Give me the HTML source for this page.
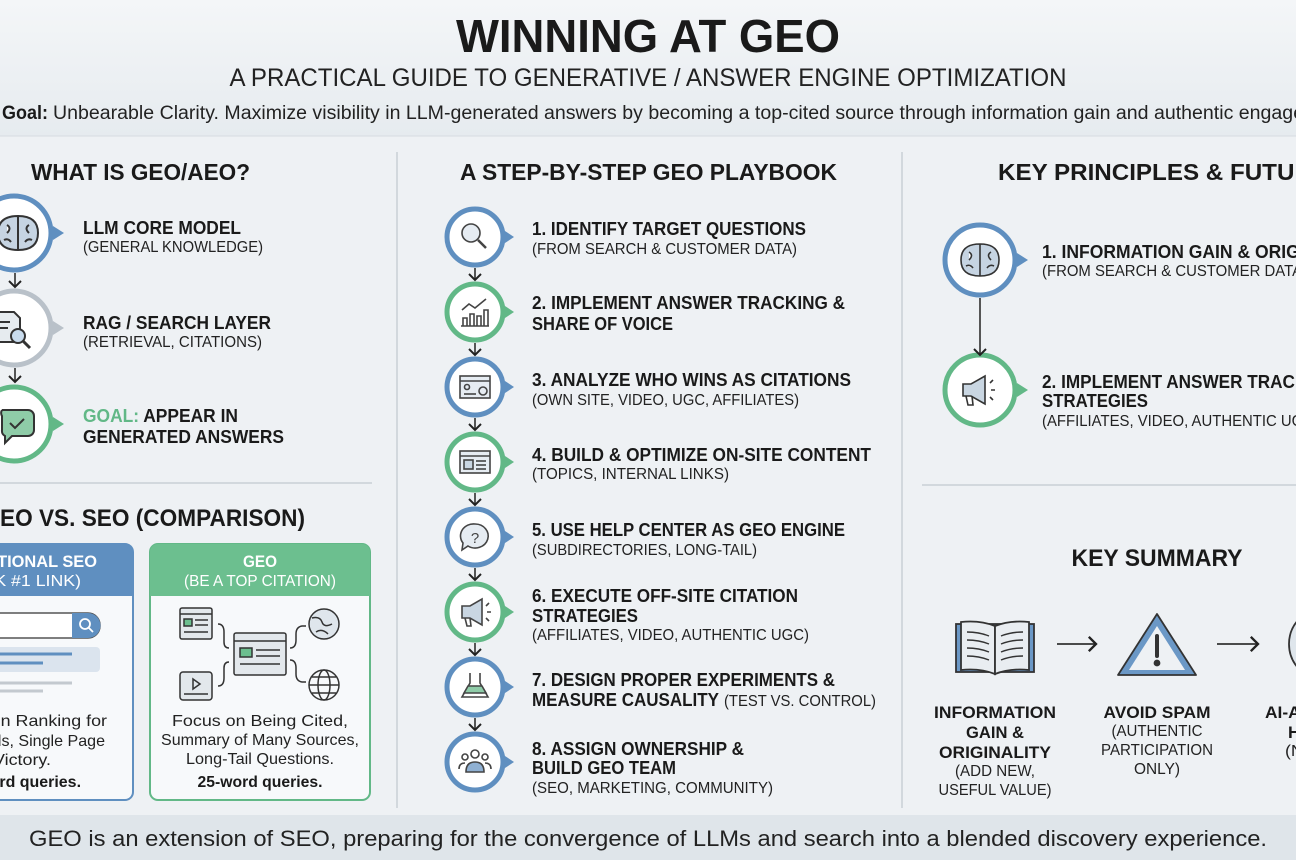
<!DOCTYPE html>
<html><head><meta charset="utf-8"><style>
html,body{margin:0;padding:0;background:#eef1f4;}
svg{display:block;font-family:"Liberation Sans",sans-serif;}
.b{font-weight:bold;fill:#1a1a1a}
.n{fill:#222}
</style></head><body>
<svg width="1296" height="860" viewBox="0 0 1296 860" xmlns="http://www.w3.org/2000/svg">
<defs>
<linearGradient id="hd" x1="0" y1="0" x2="0" y2="1"><stop offset="0" stop-color="#f4f6f8"/><stop offset="1" stop-color="#e6ebef"/></linearGradient>
<marker id="ah" markerWidth="10" markerHeight="10" refX="5" refY="5" orient="auto"><path d="M1,1 L5,5 L1,9" fill="none" stroke="#222" stroke-width="1.3"/></marker>
</defs>
<rect width="1296" height="860" fill="#eef1f4"/>
<rect width="1296" height="136" fill="url(#hd)"/>
<line x1="0" y1="136" x2="1296" y2="136" stroke="#d5dbe1" stroke-width="1"/>
<rect y="815" width="1296" height="45" fill="#dfe5ea"/>

<!-- Header -->
<text x="648" y="52" text-anchor="middle" class="b" font-size="46" textLength="384" lengthAdjust="spacingAndGlyphs">WINNING AT GEO</text>
<text x="648" y="86" text-anchor="middle" class="n" font-size="25" textLength="837" lengthAdjust="spacingAndGlyphs">A PRACTICAL GUIDE TO GENERATIVE / ANSWER ENGINE OPTIMIZATION</text>
<text x="2" y="119" class="b" font-size="19" textLength="46" lengthAdjust="spacingAndGlyphs">Goal:</text>
<text x="53" y="119" class="n" font-size="19" textLength="1300" lengthAdjust="spacingAndGlyphs">Unbearable Clarity. Maximize visibility in LLM-generated answers by becoming a top-cited source through information gain and authentic engagement.</text>

<!-- dividers -->
<line x1="397" y1="152" x2="397" y2="808" stroke="#c9cfd5" stroke-width="1.5"/>
<line x1="902" y1="152" x2="902" y2="808" stroke="#c9cfd5" stroke-width="1.5"/>

<!-- LEFT -->
<text x="31" y="180" class="b" font-size="23" textLength="219" lengthAdjust="spacingAndGlyphs">WHAT IS GEO/AEO?</text>
<g stroke-width="5" fill="#fff">
<circle cx="14" cy="233" r="37" stroke="#5f8fc0"/>
<circle cx="14" cy="328" r="37" stroke="#b9c1c9"/>
<circle cx="14" cy="424" r="37" stroke="#62b887"/>
</g>
<polygon points="53,226 64,233 53,240" fill="#5f8fc0"/>
<polygon points="53,321 64,328 53,335" fill="#b9c1c9"/>
<polygon points="53,417 64,424 53,431" fill="#62b887"/>
<g fill="none" stroke="#333" stroke-width="2">
<path d="M18,216 q-20,0 -20,17 q0,17 20,17 q20,0 20,-17 q0,-17 -20,-17 M18,216 v34 M7,225 q5,3 0,8 M29,225 q-5,3 0,8 M4,240 q4,-2 7,2 M32,240 q-4,-2 -7,2" fill="#c6d4e2"/>
<path d="M-4,312 h18 l6,6 v24 h-24 Z" fill="#e6ebef"/><line x1="0" y1="322" x2="10" y2="322"/><line x1="0" y1="328" x2="8" y2="328"/><circle cx="18" cy="336" r="7" fill="#c9dcee"/><line x1="23" y1="341" x2="30" y2="348" stroke-width="3"/>
<path d="M2,410 h26 a6,6 0 0 1 6,6 v14 a6,6 0 0 1 -6,6 h-16 l-7,7 v-7 a6,6 0 0 1 -3,-6 v-14 a6,6 0 0 1 0,-6" fill="#8fcca8"/><path d="M10,423 l5,5 l9,-9"/>
</g>
<g stroke="#222" stroke-width="1.5" fill="none">
<line x1="15" y1="273" x2="15" y2="287" marker-end="url(#ah)"/>
<line x1="15" y1="368" x2="15" y2="382" marker-end="url(#ah)"/>
</g>
<text x="83" y="234" class="b" font-size="18" textLength="158" lengthAdjust="spacingAndGlyphs">LLM CORE MODEL</text>
<text x="83" y="252" class="n" font-size="16" textLength="180" lengthAdjust="spacingAndGlyphs">(GENERAL KNOWLEDGE)</text>
<text x="83" y="329" class="b" font-size="18" textLength="188" lengthAdjust="spacingAndGlyphs">RAG / SEARCH LAYER</text>
<text x="83" y="347" class="n" font-size="16" textLength="179" lengthAdjust="spacingAndGlyphs">(RETRIEVAL, CITATIONS)</text>
<text x="83" y="422" class="b" font-size="18" textLength="155" lengthAdjust="spacingAndGlyphs"><tspan fill="#62b887">GOAL:</tspan> APPEAR IN</text>
<text x="83" y="443" class="b" font-size="18" textLength="201" lengthAdjust="spacingAndGlyphs">GENERATED ANSWERS</text>

<line x1="0" y1="483" x2="372" y2="483" stroke="#c9cfd5" stroke-width="1.5"/>
<text x="0" y="526" class="b" font-size="24" textLength="305" lengthAdjust="spacingAndGlyphs">EO VS. SEO (COMPARISON)</text>

<!-- blue box -->
<rect x="-12" y="544" width="145" height="256" rx="8" fill="#f7f9fb" stroke="#5f8fc0" stroke-width="2"/>
<path d="M-12,596 V552 a8,8 0 0 1 8,-8 H125 a8,8 0 0 1 8,8 V596 Z" fill="#5f8fc0"/>
<text x="22" y="567" text-anchor="middle" font-size="17" font-weight="bold" fill="#fff" textLength="150" lengthAdjust="spacingAndGlyphs">TRADITIONAL SEO</text>
<text x="16" y="586" text-anchor="middle" font-size="16" fill="#fff" textLength="130" lengthAdjust="spacingAndGlyphs">(RANK #1 LINK)</text>
<rect x="-20" y="613" width="120" height="25" rx="12" fill="#fff" stroke="#555" stroke-width="1.5"/>
<path d="M72,613 H88 a12,12 0 0 1 0,25 H72 Z" fill="#5f8fc0"/>
<circle cx="85" cy="624" r="5" fill="none" stroke="#fff" stroke-width="1.8"/><line x1="89" y1="628" x2="93" y2="632" stroke="#fff" stroke-width="1.8"/>
<rect x="-10" y="647" width="110" height="25" rx="4" fill="#dbe4ee"/>
<line x1="-10" y1="654" x2="72" y2="654" stroke="#5f8fc0" stroke-width="3"/>
<line x1="-10" y1="663" x2="43" y2="663" stroke="#5f8fc0" stroke-width="3"/>
<line x1="-10" y1="683" x2="72" y2="683" stroke="#c3c9cf" stroke-width="3"/>
<line x1="-10" y1="691" x2="43" y2="691" stroke="#c3c9cf" stroke-width="3"/>
<text x="22" y="726" text-anchor="middle" class="n" font-size="16" textLength="170" lengthAdjust="spacingAndGlyphs">Focus on Ranking for</text>
<text x="22" y="746" text-anchor="middle" class="n" font-size="16" textLength="166" lengthAdjust="spacingAndGlyphs">Keywords, Single Page</text>
<text x="22" y="765" text-anchor="middle" class="n" font-size="16" textLength="58" lengthAdjust="spacingAndGlyphs">Victory.</text>
<text x="22" y="787" text-anchor="middle" class="b" font-size="16" textLength="118" lengthAdjust="spacingAndGlyphs">3-word queries.</text>

<!-- green box -->
<rect x="150" y="544" width="220" height="256" rx="8" fill="#f7f9fb" stroke="#62b887" stroke-width="2"/>
<path d="M150,596 V552 a8,8 0 0 1 8,-8 H362 a8,8 0 0 1 8,8 V596 Z" fill="#6cbf8f"/>
<text x="260" y="567" text-anchor="middle" font-size="17" font-weight="bold" fill="#fff" textLength="34" lengthAdjust="spacingAndGlyphs">GEO</text>
<text x="260" y="586" text-anchor="middle" font-size="16" fill="#fff" textLength="152" lengthAdjust="spacingAndGlyphs">(BE A TOP CITATION)</text>
<g fill="none" stroke="#333" stroke-width="1.5">
<rect x="180" y="608" width="32" height="31" rx="2" fill="#e3e8ec"/><line x1="180" y1="614" x2="212" y2="614"/><rect x="184" y="619" width="8" height="7" fill="#6cbf8f"/><line x1="195" y1="620" x2="208" y2="620"/><line x1="195" y1="625" x2="208" y2="625"/><line x1="184" y1="632" x2="208" y2="632"/>
<rect x="234" y="633" width="52" height="42" rx="2" fill="#e3e8ec"/><line x1="234" y1="641" x2="286" y2="641"/><rect x="240" y="648" width="12" height="9" fill="#6cbf8f"/><line x1="256" y1="650" x2="280" y2="650"/><line x1="256" y1="656" x2="280" y2="656"/><line x1="240" y1="664" x2="280" y2="664"/>
<rect x="180" y="672" width="32" height="28" rx="3" fill="#e3e8ec"/><path d="M193,679 l7,5 l-7,5 Z"/><line x1="184" y1="694" x2="208" y2="694"/>
<path d="M218,624 q6,0 6,8 v10 q0,6 5,6"/><path d="M218,686 q6,0 6,-8 v-10 q0,-6 5,-6"/>
<path d="M290,648 q6,0 6,-8 v-6 q0,-7 6,-8 h4"/><path d="M290,660 q6,0 6,8 v6 q0,7 6,8 h4"/>
<circle cx="324" cy="624" r="15" fill="#dfe6ec"/><path d="M312,618 q8,-2 10,4 q2,6 10,2 M316,632 q6,-4 12,2"/>
<circle cx="324" cy="685" r="15"/><ellipse cx="324" cy="685" rx="6" ry="15"/><line x1="309" y1="685" x2="339" y2="685"/><line x1="312" y1="677" x2="336" y2="677"/><line x1="312" y1="693" x2="336" y2="693"/>
</g>
<text x="260" y="726" text-anchor="middle" class="n" font-size="16" textLength="176" lengthAdjust="spacingAndGlyphs">Focus on Being Cited,</text>
<text x="260" y="745" text-anchor="middle" class="n" font-size="16" textLength="198" lengthAdjust="spacingAndGlyphs">Summary of Many Sources,</text>
<text x="260" y="764" text-anchor="middle" class="n" font-size="16" textLength="148" lengthAdjust="spacingAndGlyphs">Long-Tail Questions.</text>
<text x="260" y="787" text-anchor="middle" class="b" font-size="16" textLength="125" lengthAdjust="spacingAndGlyphs">25-word queries.</text>

<!-- MIDDLE -->
<text x="460" y="180" class="b" font-size="23" textLength="377" lengthAdjust="spacingAndGlyphs">A STEP-BY-STEP GEO PLAYBOOK</text>
<g stroke-width="5" fill="#fff">
<circle cx="475" cy="237" r="28" stroke="#5f8fc0"/>
<circle cx="475" cy="312" r="28" stroke="#62b887"/>
<circle cx="475" cy="387" r="28" stroke="#5f8fc0"/>
<circle cx="475" cy="462" r="28" stroke="#62b887"/>
<circle cx="475" cy="537" r="28" stroke="#5f8fc0"/>
<circle cx="475" cy="612" r="28" stroke="#62b887"/>
<circle cx="475" cy="687" r="28" stroke="#5f8fc0"/>
<circle cx="475" cy="762" r="28" stroke="#5f8fc0"/>
</g>
<g>
<polygon points="505,231 514,237 505,243" fill="#5f8fc0"/>
<polygon points="505,306 514,312 505,318" fill="#62b887"/>
<polygon points="505,381 514,387 505,393" fill="#5f8fc0"/>
<polygon points="505,456 514,462 505,468" fill="#62b887"/>
<polygon points="505,531 514,537 505,543" fill="#5f8fc0"/>
<polygon points="505,606 514,612 505,618" fill="#62b887"/>
<polygon points="505,681 514,687 505,693" fill="#5f8fc0"/>
<polygon points="505,756 514,762 505,768" fill="#5f8fc0"/>
</g>
<g stroke="#222" stroke-width="1.5" fill="none">
<line x1="475" y1="268" x2="475" y2="280" marker-end="url(#ah)"/>
<line x1="475" y1="343" x2="475" y2="355" marker-end="url(#ah)"/>
<line x1="475" y1="418" x2="475" y2="430" marker-end="url(#ah)"/>
<line x1="475" y1="493" x2="475" y2="505" marker-end="url(#ah)"/>
<line x1="475" y1="568" x2="475" y2="580" marker-end="url(#ah)"/>
<line x1="475" y1="643" x2="475" y2="655" marker-end="url(#ah)"/>
<line x1="475" y1="718" x2="475" y2="730" marker-end="url(#ah)"/>
</g>
<g fill="none" stroke="#444" stroke-width="1.6">
<circle cx="471" cy="233" r="9" fill="#e6ecf2"/><line x1="478" y1="240" x2="486" y2="248" stroke-width="2.5"/>
<path d="M461,326 h28 M463,326 v-8 h4 v8 M470,326 v-12 h4 v12 M477,326 v-10 h4 v10 M484,326 v-16 h4 v16 M462,310 l7,-6 l6,4 l11,-9"/>
<rect x="460" y="376" width="30" height="22" fill="#e6ecf2"/><line x1="460" y1="381" x2="490" y2="381"/><circle cx="467" cy="387" r="2.5"/><line x1="464" y1="394" x2="476" y2="394"/><circle cx="483" cy="391" r="4"/>
<rect x="460" y="451" width="30" height="22" fill="#e6ecf2"/><line x1="460" y1="456" x2="490" y2="456"/><rect x="464" y="460" width="9" height="9" fill="#c9d6e2"/><line x1="476" y1="461" x2="486" y2="461"/><line x1="476" y1="465" x2="486" y2="465"/><line x1="476" y1="469" x2="486" y2="469"/>
<path d="M475,524 a13,12 0 1 1 -7,22 l-6,4 l1,-7 a13,12 0 0 1 12,-19 Z" fill="#e6ecf2"/><text x="475" y="543" text-anchor="middle" font-size="15" fill="#444" stroke="none">?</text>
<path d="M462,606 h8 l12,-7 v26 l-12,-7 h-8 Z" fill="#c9d6e2"/><path d="M465,618 l2,8 h4 l-1,-8"/><path d="M486,606 l3,-3 M487,612 h4 M486,618 l3,3"/>
<path d="M470,673 v10 l-8,14 h26 l-8,-14 v-10" fill="#fff"/><path d="M464,693 l4,-7 h14 l4,7 Z" fill="#8fcca8"/>
<circle cx="475" cy="754" r="4"/><circle cx="465" cy="757" r="3"/><circle cx="485" cy="757" r="3"/><path d="M466,772 q0,-10 9,-10 q9,0 9,10 Z" fill="#8fb0d2"/><path d="M459,769 q0,-6 6,-6 M491,769 q0,-6 -6,-6"/>
</g>
<g font-size="18">
<text x="532" y="235" class="b" textLength="274" lengthAdjust="spacingAndGlyphs">1. IDENTIFY TARGET QUESTIONS</text>
<text x="532" y="254" class="n" font-size="16" textLength="265" lengthAdjust="spacingAndGlyphs">(FROM SEARCH &amp; CUSTOMER DATA)</text>
<text x="532" y="309" class="b" textLength="313" lengthAdjust="spacingAndGlyphs">2. IMPLEMENT ANSWER TRACKING &amp;</text>
<text x="532" y="330" class="b" textLength="141" lengthAdjust="spacingAndGlyphs">SHARE OF VOICE</text>
<text x="532" y="386" class="b" textLength="319" lengthAdjust="spacingAndGlyphs">3. ANALYZE WHO WINS AS CITATIONS</text>
<text x="532" y="405" class="n" font-size="16" textLength="267" lengthAdjust="spacingAndGlyphs">(OWN SITE, VIDEO, UGC, AFFILIATES)</text>
<text x="532" y="461" class="b" textLength="339" lengthAdjust="spacingAndGlyphs">4. BUILD &amp; OPTIMIZE ON-SITE CONTENT</text>
<text x="532" y="479" class="n" font-size="16" textLength="197" lengthAdjust="spacingAndGlyphs">(TOPICS, INTERNAL LINKS)</text>
<text x="532" y="536" class="b" textLength="313" lengthAdjust="spacingAndGlyphs">5. USE HELP CENTER AS GEO ENGINE</text>
<text x="532" y="555" class="n" font-size="16" textLength="225" lengthAdjust="spacingAndGlyphs">(SUBDIRECTORIES, LONG-TAIL)</text>
<text x="532" y="602" class="b" textLength="266" lengthAdjust="spacingAndGlyphs">6. EXECUTE OFF-SITE CITATION</text>
<text x="532" y="622" class="b" textLength="106" lengthAdjust="spacingAndGlyphs">STRATEGIES</text>
<text x="532" y="640" class="n" font-size="16" textLength="277" lengthAdjust="spacingAndGlyphs">(AFFILIATES, VIDEO, AUTHENTIC UGC)</text>
<text x="532" y="686" class="b" textLength="303" lengthAdjust="spacingAndGlyphs">7. DESIGN PROPER EXPERIMENTS &amp;</text>
<text x="532" y="706" class="b" textLength="187" lengthAdjust="spacingAndGlyphs">MEASURE CAUSALITY</text>
<text x="724" y="706" class="n" font-size="16" textLength="152" lengthAdjust="spacingAndGlyphs">(TEST VS. CONTROL)</text>
<text x="532" y="755" class="b" textLength="212" lengthAdjust="spacingAndGlyphs">8. ASSIGN OWNERSHIP &amp;</text>
<text x="532" y="774" class="b" textLength="144" lengthAdjust="spacingAndGlyphs">BUILD GEO TEAM</text>
<text x="532" y="793" class="n" font-size="16" textLength="241" lengthAdjust="spacingAndGlyphs">(SEO, MARKETING, COMMUNITY)</text>
</g>

<!-- RIGHT -->
<text x="998" y="180" class="b" font-size="23" textLength="330" lengthAdjust="spacingAndGlyphs">KEY PRINCIPLES &amp; FUTURE</text>
<g stroke-width="5" fill="#fff">
<circle cx="980" cy="260" r="35" stroke="#5f8fc0"/>
<circle cx="980" cy="390" r="35" stroke="#62b887"/>
</g>
<polygon points="1017,253 1028,260 1017,267" fill="#5f8fc0"/>
<polygon points="1017,383 1028,390 1017,397" fill="#62b887"/>
<line x1="980" y1="298" x2="980" y2="355" stroke="#222" stroke-width="1.5" marker-end="url(#ah)"/>
<g fill="none" stroke="#333" stroke-width="1.6">
<path d="M980,244 q-19,0 -19,16 q0,16 19,16 q19,0 19,-16 q0,-16 -19,-16 M980,244 v32 M969,252 q5,3 0,8 M991,252 q-5,3 0,8 M966,266 q4,-2 7,2 M994,266 q-4,-2 -7,2" fill="#c6d4e2"/>
<path d="M963,384 h8 l14,-8 v28 l-14,-8 h-8 Z" fill="#c9d6e2"/><path d="M966,396 l2,9 h5 l-1,-9"/><path d="M990,383 l3,-3 M991,390 h4 M990,397 l3,3"/>
</g>
<text x="1042" y="258" class="b" font-size="18" textLength="326" lengthAdjust="spacingAndGlyphs">1. INFORMATION GAIN &amp; ORIGINALITY</text>
<text x="1042" y="276" class="n" font-size="16" textLength="265" lengthAdjust="spacingAndGlyphs">(FROM SEARCH &amp; CUSTOMER DATA)</text>
<text x="1042" y="388" class="b" font-size="18" textLength="313" lengthAdjust="spacingAndGlyphs">2. IMPLEMENT ANSWER TRACKING &amp;</text>
<text x="1042" y="407" class="b" font-size="18" textLength="106" lengthAdjust="spacingAndGlyphs">STRATEGIES</text>
<text x="1042" y="426" class="n" font-size="16" textLength="277" lengthAdjust="spacingAndGlyphs">(AFFILIATES, VIDEO, AUTHENTIC UGC)</text>

<line x1="922" y1="485" x2="1296" y2="485" stroke="#c9cfd5" stroke-width="1.5"/>
<text x="1157" y="566" text-anchor="middle" class="b" font-size="24" textLength="171" lengthAdjust="spacingAndGlyphs">KEY SUMMARY</text>
<g stroke="#333" stroke-width="1.8" fill="none">
<rect x="956" y="624" width="78" height="48" fill="#6b98c6"/>
<path d="M995,626 q-15,-6 -34,-4 v48 q19,-2 34,4 Z" fill="#e9edf1"/>
<path d="M995,626 q15,-6 34,-4 v48 q-19,-2 -34,4 Z" fill="#e9edf1"/>
<path d="M967,632 q12,0 22,4 M967,640 q12,0 22,4 M967,648 q12,0 22,4 M967,656 q12,0 22,4 M1001,636 q10,-4 22,-4 M1001,644 q10,-4 22,-4 M1001,652 q10,-4 22,-4 M1001,660 q10,-4 22,-4" stroke-width="1.4"/>
<path d="M1157,614 L1196,675 H1118 Z" fill="#6b98c6" stroke-linejoin="round"/>
<path d="M1157,626 L1185,670 H1129 Z" fill="#eef1f4" stroke="none"/>
<line x1="1157" y1="636" x2="1157" y2="656" stroke-width="4" stroke-linecap="round"/><circle cx="1157" cy="663" r="2.5" fill="#333"/>
<line x1="1057" y1="644" x2="1096" y2="644" marker-end="url(#ah)"/>
<line x1="1217" y1="644" x2="1258" y2="644" marker-end="url(#ah)"/>
<circle cx="1325" cy="644" r="36" fill="#dfe6ec"/>
</g>
<g text-anchor="middle">
<text x="995" y="718" class="b" font-size="17" textLength="122" lengthAdjust="spacingAndGlyphs">INFORMATION</text>
<text x="995" y="738" class="b" font-size="17" textLength="58" lengthAdjust="spacingAndGlyphs">GAIN &amp;</text>
<text x="995" y="758" class="b" font-size="17" textLength="112" lengthAdjust="spacingAndGlyphs">ORIGINALITY</text>
<text x="995" y="776" class="n" font-size="16" textLength="80" lengthAdjust="spacingAndGlyphs">(ADD NEW,</text>
<text x="995" y="795" class="n" font-size="16" textLength="113" lengthAdjust="spacingAndGlyphs">USEFUL VALUE)</text>
<text x="1157" y="718" class="b" font-size="17" textLength="107" lengthAdjust="spacingAndGlyphs">AVOID SPAM</text>
<text x="1157" y="736" class="n" font-size="16" textLength="91" lengthAdjust="spacingAndGlyphs">(AUTHENTIC</text>
<text x="1157" y="755" class="n" font-size="16" textLength="112" lengthAdjust="spacingAndGlyphs">PARTICIPATION</text>
<text x="1157" y="774" class="n" font-size="16" textLength="46" lengthAdjust="spacingAndGlyphs">ONLY)</text>
<text x="1320" y="718" class="b" font-size="17" textLength="110" lengthAdjust="spacingAndGlyphs">AI-ASSISTED</text>
<text x="1320" y="738" class="b" font-size="17" textLength="64" lengthAdjust="spacingAndGlyphs">HUMAN</text>
<text x="1320" y="756" class="n" font-size="16" textLength="70" lengthAdjust="spacingAndGlyphs">(NOT AI)</text>
</g>

<!-- Footer -->
<text x="648" y="846" text-anchor="middle" class="n" font-size="22" textLength="1238" lengthAdjust="spacingAndGlyphs">GEO is an extension of SEO, preparing for the convergence of LLMs and search into a blended discovery experience.</text>
</svg>
</body></html>
